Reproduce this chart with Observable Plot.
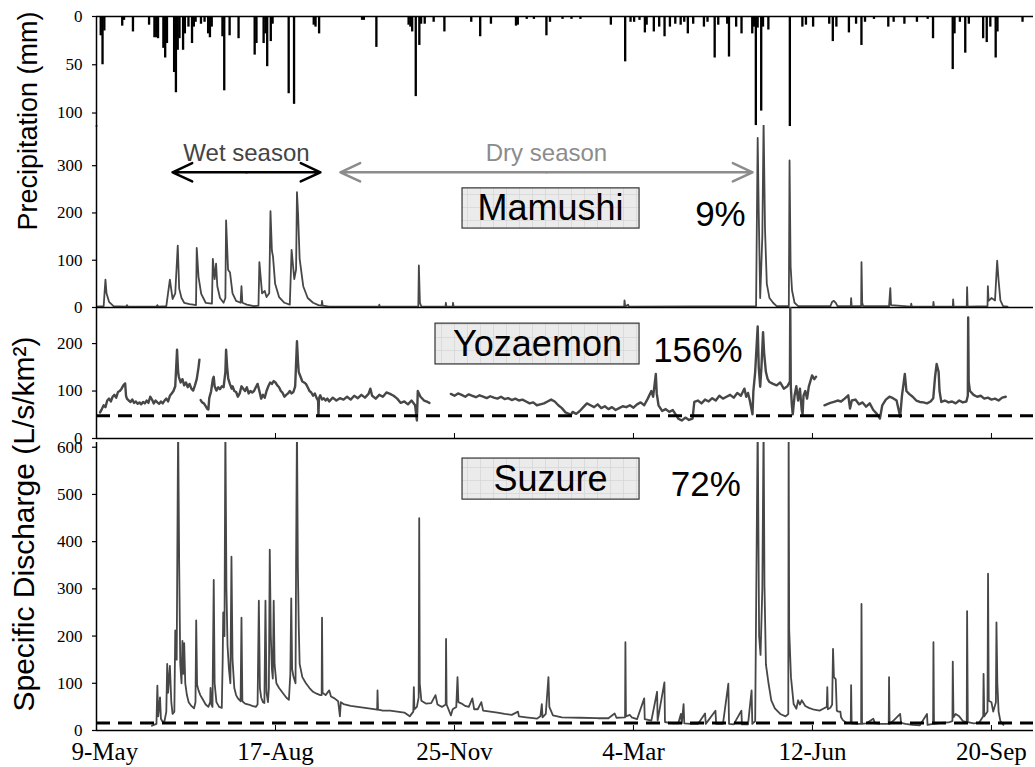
<!DOCTYPE html>
<html>
<head>
<meta charset="utf-8">
<script src="https://cdn.jsdelivr.net/npm/d3@7"></script>
<script src="https://cdn.jsdelivr.net/npm/@observablehq/plot@0.6"></script>
<style>
body { margin: 0; background: #fff; }
#chart { position: relative; width: 1035px; height: 767px; overflow: hidden; background: #fff; }
#chart svg { position: absolute; left: 0; top: 0; background: transparent !important; max-width: none !important; }
.ytitle { position: absolute; font-family: "Liberation Sans", Arial, sans-serif; white-space: nowrap; line-height: 1; color: #000; transform: translate(-50%, -50%) rotate(-90deg); }
</style>
</head>
<body>
<div id="chart">
<svg width="0" height="0" style="position:absolute">
  <defs>
    <pattern id="boxgrid" width="13" height="13" patternUnits="userSpaceOnUse">
      <rect width="13" height="13" fill="#ebebeb"></rect>
      <path d="M12.5 0 V13 M0 12.5 H13" stroke="#d4d4d4" stroke-width="0.7" fill="none"></path>
    </pattern>
  </defs>
</svg>
</div>
<script>
// ---------- data (day offsets from 9-May-2015) ----------
const startDate = "2015-05-09";
const lastDay = 523.5;
const tickDates = ["2015-05-09", "2015-08-17", "2015-11-25", "2016-03-04", "2016-06-12", "2016-09-20"];

// daily precipitation [day, mm]
const precipitation = [
  [2,20],[3,50],[4,15],[14,10],[15,4],[20,16],[29,9],[32,22],[33,22],[34,23],[37,33],[38,43],[39,28],
  [43,58],[44,79],[45,35],[46,23],[48,35],[49,18],[51,11],[53,28],[54,11],[55,6],[58,8],[60,6],[62,18],
  [63,22],[64,11],[70,21],[71,77],[74,20],[79,23],[88,40],[89,28],[93,28],[94,18],[95,52],[97,26],[98,8],
  [107,80],[110,91],[121,9],[122,11],[124,18],[148,4],[149,4],[156,32],[174,9],[175,11],[176,16],[178,83],
  [180,30],[181,8],[183,8],[188,6],[194,16],[209,6],[214,21],[220,8],[234,10],[235,9],[240,3],[244,3],
  [251,20],[253,6],[260,3],[265,3],[270,3],[287,9],[295,47],[298,6],[300,6],[303,4],[306,17],[307,9],
  [311,16],[314,11],[317,21],[320,11],[323,8],[326,9],[328,6],[330,18],[333,8],[339,11],[341,6],[345,43],
  [347,9],[352,8],[353,42],[357,11],[360,18],[366,18],[367,11],[368,113],[369,12],[371,98],[372,11],
  [375,14],[387,114],[394,11],[396,9],[400,11],[409,8],[411,26],[413,11],[420,17],[424,8],[427,30],
  [429,6],[434,3],[442,11],[445,6],[451,8],[458,6],[464,3],[467,23],[478,55],[479,18],[482,6],[485,38],
  [487,8],[495,23],[497,27],[499,11],[502,43],[503,16],[517,6]
];

// Mamushi specific discharge [day, L/s/km2]
const mamushi = [
  [0,2],[4,3],[5,59],[5.6,30],[7,12],[9.5,3],[16.5,2],[17,5],[17.5,2],[33.5,2],[34,5],[34.5,2],[39,3],
  [41,59],[42.5,18],[44,30],[45.4,131],[46.2,40],[47.5,20],[49,10],[52,7],[54,6],[55.6,5],[56,126],[57,65],
  [58.5,29],[61,10],[64.5,8],[65,103],[66,60],[66.8,93],[67.5,45],[69,20],[71,10],[72,20],[72.4,184],
  [73.5,80],[74.6,74],[76,30],[78,14],[80.5,10],[81,45],[81.5,10],[84,6],[88,3],[90.5,4],[91,96],[92.5,30],
  [94,35],[95,22],[96.5,30],[97.2,204],[98,120],[98.6,108],[99.8,50],[102,22],[105,10],[108,6],[109,122],
  [110.5,60],[111.5,80],[112,244],[112.6,200],[113.5,103],[115.5,45],[118,20],[121,10],[124,5],[125.8,4],
  [126,14],[126.4,4],[130,2],[157.8,2],[158,6],[158.3,2],[179.8,2],[180.1,89],[180.7,10],[181.5,2],
  [195,2],[195.2,10],[195.5,2],[199,2],[199.2,10],[199.5,2],[294.8,2],[295,15],[295.4,2],[297,6],[297.4,2],
  [368.5,3],[369.4,359],[370,200],[370.8,20],[372,150],[372.7,395],[373.5,165],[374.5,50],[376,20],[378,10],
  [380,3],[386.8,3],[387.2,311],[387.8,87],[388.6,36],[390,10],[392,3],[410,3],[411,12],[412,14],[413,10],
  [414,3],[421.4,3],[421.6,20],[421.9,3],[427.2,3],[427.4,96],[427.8,10],[428.3,3],[442.8,3],[443.2,25],
  [443.5,41],[443.9,5],[455,2],[455.2,8],[455.5,2],[467.4,2],[467.6,12],[467.9,2],[478.4,2],[478.6,17],
  [478.9,2],[486.2,2],[486.4,43],[486.7,2],[497.8,3],[498,45],[498.4,14],[500,20],[502,15],[503.2,99],
  [504,57],[505,15],[506.5,3],[509,2]
];

// Yozaemon specific discharge [day, L/s/km2] (null = gap)
const yozaemon = [
  [2,55],[3,62],[4,70],[5,66],[6,80],[7,84],[8,78],[9,88],[10,92],[11,86],[12,98],[13,100],[14,105],[15,112],
  [16,116],[16.5,90],[17,84],[18,80],[19,77],[20,82],[21,75],[22,78],[23,73],[24,76],[25,72],[26,77],[27,74],
  [28,80],[29,75],[30,88],[31,82],[32,74],[33,80],[34,76],[35,73],[36,78],[37,74],[38,80],[39,84],[40,78],
  [41,90],[42,95],[43,100],[44,110],[45,187],[45.6,140],[46,130],[47,118],[48,125],[49,112],[50,118],
  [51,108],[52,115],[53,105],[54,101],[55,112],[56,125],[57,150],[57.5,166],[57.8,null],
  [58.2,81],[59,76],[60,74],[61,68],[62,62],[62.5,61],[63,85],[64,99],[65,125],[65.5,130],[66,110],[67,101],
  [68,108],[69,104],[70,110],[71,108],[72,140],[72.4,187],[73,150],[73.6,126],[74.5,115],[75.5,105],[76,110],
  [77,100],[78,98],[79,88],[80,95],[81,110],[82,105],[83,100],[84,108],[85,95],[86,100],[87,97],[88,100],
  [89,108],[90,115],[91,100],[92,84],[93,92],[94,86],[95,100],[96,110],[97,118],[98,115],[99,121],[100,118],
  [101,112],[102,108],[103,100],[104,96],[105,88],[106,92],[107,95],[108,100],[109,95],[110,98],[111,110],
  [112,205],[112.6,160],[113,140],[114,130],[115,120],[116,118],[117,115],[118,108],[119,100],[120,97],
  [121,90],[122,95],[123,85],[123.8,80],[124,48],[124.3,85],[125,91],[126,82],[127,85],[128,80],[129,84],
  [130,78],[132,86],[134,80],[136,85],[138,82],[140,88],[142,82],[144,90],[146,85],[148,92],[150,86],
  [152,94],[153,105],[154,90],[156,84],[158,92],[160,88],[162,97],[164,94],[166,90],[168,84],[170,75],
  [172,78],[174,72],[176,80],[178,70],[179,38],[179.5,100],[181,88],[183,80],[185,77],[186,75],[186.5,null],
  [198,94],[200,90],[202,95],[204,92],[206,88],[208,93],[210,90],[212,87],[214,91],[216,88],[218,85],
  [220,89],[222,86],[224,84],[226,88],[228,83],[230,85],[232,81],[234,84],[236,80],[238,82],[240,78],
  [242,74],[244,76],[246,70],[248,72],[250,74],[252,78],[254,82],[256,78],[258,70],[260,64],[262,55],
  [264,52],[265,50],[266,56],[268,52],[270,58],[272,66],[274,74],[276,70],[278,66],[280,72],[282,64],
  [284,68],[286,62],[288,66],[290,60],[292,64],[294,68],[296,66],[298,70],[300,65],[302,72],[304,76],
  [306,70],[308,84],[310,100],[311,88],[312,120],[312.5,136],[313,95],[314,70],[316,58],[318,62],[320,56],
  [322,60],[324,48],[325,42],[327,38],[329,44],[331,39],[333,42],[334,77],[336,80],[338,74],[340,82],
  [342,78],[344,85],[346,80],[348,90],[350,84],[352,88],[354,92],[356,86],[358,96],[360,90],[362,105],
  [363,88],[364,96],[365,80],[366.5,51],[367,100],[368,140],[369.4,236],[370,150],[370.8,109],[371.5,150],
  [372.4,224],[373,180],[374,140],[375,125],[376,119],[378,115],[380,112],[382,118],[384,105],[386,110],
  [387.4,120],[387.6,280],[387.9,110],[388.5,70],[389,51],[390,90],[391,110],[392,80],[393,105],[394,60],
  [394.5,51],[395,90],[396,100],[397,84],[398,110],[399.8,133],[401,125],[402,130],[402.5,null],
  [406.7,70],[408,72],[410,75],[412,77],[414,80],[416,78],[418,84],[420,91],[421,63],[422,80],[424,82],
  [426,72],[428,76],[430,67],[432,74],[434,60],[436,52],[437.7,42],[439,70],[441,82],[443,88],[445,85],
  [447,80],[449,46],[450,90],[451.6,136],[452.5,100],[454,94],[456,88],[458,80],[460,77],[462,76],[464,74],
  [466,78],[467.5,85],[468.5,130],[469.4,157],[470.5,140],[471,100],[472,77],[474,80],[476,76],[478,78],
  [480,74],[482,80],[484,76],[486,78],[486.8,90],[487,255],[487.3,120],[488,100],[490,92],[492,88],
  [494,90],[496,84],[498,86],[500,82],[502,84],[504,80],[506,86],[508,88]
];

// Suzure specific discharge [day, L/s/km2]
const suzure = [
  [31,10],[32,12],[33.5,14],[34,95],[34.5,30],[35.5,70],[36,25],[37,18],[38,20],[39,40],[39.5,141],[40,80],
  [41,137],[41.8,60],[42.5,35],[43.5,40],[44,212],[44.8,150],[45.6,650],[46.2,350],[46.8,140],[47.5,100],
  [48,190],[48.5,120],[49,185],[49.6,100],[50.5,75],[51.5,60],[53,52],[54.5,47],[55.3,60],[55.7,233],
  [56.2,97],[57,85],[58,75],[59.5,65],[61,55],[62.5,50],[63.5,60],[63.7,90],[64.2,55],[64.8,50],[65.5,319],
  [66,100],[67,60],[68.5,50],[70,48],[70.5,150],[70.8,250],[71.5,200],[72,650],[72.6,300],[73.2,180],
  [74,130],[74.8,100],[75.4,368],[76,150],[77,90],[78,75],[79,68],[80.5,62],[81,239],[81.5,62],[83,57],
  [85,55],[87,52],[89,50],[90,55],[90.7,275],[91.3,90],[92,70],[93,60],[93.8,58],[94.4,275],[95,80],
  [95.8,60],[96.3,90],[96.8,383],[97.4,200],[98,130],[98.5,110],[99,275],[99.5,140],[100.5,100],[102,90],
  [104,80],[106,70],[107.5,65],[108.3,120],[108.8,280],[109.3,130],[110,115],[111.2,100],[111.5,350],
  [112,650],[112.5,345],[113,220],[113.5,141],[115,113],[117,100],[119,90],[121,82],[123,78],[125,75],
  [125.8,75],[126,239],[126.3,80],[128,75],[130,85],[131,72],[133,68],[135,62],[136,30],[136.5,60],[138,56],
  [142,52],[146,50],[150,48],[154,46],[156.8,44],[157,85],[157.3,44],[160,42],[164,42],[168,40],[172,38],
  [175,30],[177,40],[177.3,92],[177.6,45],[179,50],[180,70],[180.3,450],[180.6,100],[181.5,63],[184,57],
  [187,58],[189.4,75],[190.5,55],[193,50],[195.1,55],[195.3,194],[195.6,55],[198,32],[199,45],[201,50],
  [201.7,113],[202.2,60],[204,57],[206,52],[208,50],[210,68],[211,45],[213,45],[215,60],[216,42],[220,40],
  [224,38],[228,35],[232,33],[235.5,40],[236,30],[240,28],[244,26],[246,25],[248,30],[248.8,56],[249.2,28],
  [251,35],[252.5,113],[253,50],[255,32],[260,28],[270,27],[280,26],[286,26],[289.5,36],[290.5,27],
  [295.3,28],[295.5,187],[295.8,30],[298,33],[299,28],[302,24],[306,68],[306.3,24],[310,21],[313.2,82],
  [313.5,21],[317.3,102],[317.6,18],[320,16],[322,15],[325,15],[326.5,35],[327,15],[328,56],[328.4,15],
  [332,14],[336,14],[340,36],[340.4,14],[345.8,42],[346.2,14],[350,14],[353,99],[353.4,14],[356,13],
  [360.3,42],[360.6,13],[364,13],[366,85],[366.4,14],[368,20],[369.4,650],[370.2,200],[371,160],[372,300],
  [372.7,650],[373.2,306],[374,140],[375.5,99],[377,64],[379,47],[382,35],[385,30],[386.5,35],[386.7,650],
  [387,214],[388,113],[389.5,56],[391,46],[392,64],[393,55],[394,64],[396,52],[398,48],[401,44],[404,42],
  [406,46],[408,50],[408.3,92],[408.6,45],[410,48],[411,55],[411.5,173],[412,113],[413,109],[413.6,42],
  [414.5,40],[415.6,40],[416,28],[417,22],[419,16],[421.4,16],[421.6,96],[421.9,15],[425,14],[427.2,14],
  [427.4,268],[427.7,14],[430,15],[434,25],[435,15],[438,14],[442.6,14],[442.8,113],[443.1,14],[445,20],
  [449,35],[449.5,16],[452,14],[456,12],[460,11],[464,35],[464.3,12],[467.4,14],[467.6,187],[467.9,14],
  [472,16],[476,17],[478.2,20],[478.4,146],[478.8,28],[480,35],[482,30],[484,20],[486.2,18],[486.4,253],
  [486.8,18],[490,15],[493,16],[495.4,30],[495.6,120],[496,30],[497.8,40],[498.1,332],[498.5,63],[500,60],
  [501,40],[502.5,60],[502.8,229],[503.3,100],[504,40],[505,20],[506.7,12]
];

// reference (dashed) levels
const yozaemonBase = 48;
const suzureBase = 16;

// panel labels and ratios
const siteNames = ["Mamushi", "Yozaemon", "Suzure"];
const sitePercents = ["9%", "156%", "72%"];
const seasonNames = ["Wet season", "Dry season"];
const seasonSpans = [[42.5, 125.1], [136.3, 366.5]];

// ---------- helpers ----------
const t0 = Date.parse(startDate + "T00:00:00Z");
const toDate = d => new Date(t0 + d * 864e5);
const rows = arr => arr.map(([d, v]) => ({date: toDate(d), value: v}));
const xDomain = [toDate(0), toDate(lastDay)];
const ticks = tickDates.map(s => new Date(s + "T00:00:00Z"));
const fmt = d3.utcFormat("%-d-%b");

const W = 1035, H = 767;
const serif = "'Liberation Serif', 'Times New Roman', serif";
const sans = "'Liberation Sans', Arial, sans-serif";
const lineColor = "#474747";

function panel({top, bottom, yDomain, reverse = false, yTicks, marks}) {
  return Plot.plot({
    width: W, height: H,
    marginLeft: 96, marginRight: 2, marginTop: top, marginBottom: H - bottom,
    x: {type: "utc", domain: xDomain, axis: null},
    y: {domain: yDomain, reverse, axis: null},
    style: {background: "transparent", fontFamily: serif, fontSize: "17px", overflow: "visible", color: "#000"},
    marks: [
      ...marks,
      Plot.ruleX([xDomain[0]], {y1: yDomain[0], y2: yDomain[1], stroke: "#000", strokeWidth: 1.5}),
      Plot.axisY({ticks: yTicks, tickSize: 4, tickPadding: 10, tickFormat: d => String(d), label: null, fontSize: 17, strokeWidth: 1.2})
    ]
  });
}

const chart = document.getElementById("chart");

// precipitation panel
const pr = precipitation.map(([d, v]) => ({x1: toDate(d), x2: toDate(d + 1.3), value: v}));
chart.append(panel({
  top: 16, bottom: 127, yDomain: [0, 115], reverse: true, yTicks: [0, 50, 100],
  marks: [
    Plot.rectY(pr, {x1: "x1", x2: "x2", y1: 0, y2: "value", fill: "#000"}),
    Plot.ruleY([0], {stroke: "#000", strokeWidth: 1.5})
  ]
}));

// Mamushi
const seasonColors = ["#000", "#8c8c8c"];
const textColors = ["#444", "#8c8c8c"];
const arrowY = 286, seasonTextY = 326;
const seasonMarks = [];
seasonSpans.forEach(([a, b], i) => {
  const mid = (a + b) / 2;
  seasonMarks.push(
    Plot.arrow([0], {x1: () => toDate(mid), x2: () => toDate(a), y1: arrowY, y2: arrowY, stroke: seasonColors[i], strokeWidth: 2.5, headLength: 13, headAngle: 50}),
    Plot.arrow([0], {x1: () => toDate(mid), x2: () => toDate(b), y1: arrowY, y2: arrowY, stroke: seasonColors[i], strokeWidth: 2.5, headLength: 13, headAngle: 50}),
    Plot.text([seasonNames[i]], {x: () => toDate(mid), y: seasonTextY, text: d => d, fill: textColors[i], fontFamily: sans, fontSize: 24})
  );
});

function siteLabel(i, box, textPos, pctPos) {
  return [
    Plot.rect([0], {x1: () => toDate(box[0]), x2: () => toDate(box[1]), y1: box[2], y2: box[3], fill: "url(#boxgrid)", stroke: "#333", strokeWidth: 1.2}),
    Plot.text([siteNames[i]], {x: () => toDate(textPos[0]), y: textPos[1], text: d => d, fontFamily: sans, fontSize: 36, fill: "#000"}),
    Plot.text([sitePercents[i]], {x: () => toDate(pctPos[0]), y: pctPos[1], text: d => d, fontFamily: sans, fontSize: 35, fill: "#000"})
  ];
}

chart.append(panel({
  top: 125, bottom: 307, yDomain: [0, 385], yTicks: [0, 100, 200, 300],
  marks: [
    Plot.line(rows(mamushi), {x: "date", y: "value", stroke: lineColor, strokeWidth: 1.8, clip: true}),
    Plot.ruleY([0], {stroke: "#000", strokeWidth: 1.5}),
    ...seasonMarks,
    ...siteLabel(0, [204.5, 303.4, 167, 252], [253.6, 209.5], [348.6, 197])
  ]
}));

// Yozaemon
chart.append(panel({
  top: 307, bottom: 438, yDomain: [0, 276], yTicks: [0, 100, 200],
  marks: [
    Plot.line(rows(yozaemon), {x: "date", y: "value", stroke: lineColor, strokeWidth: 2.4, clip: true}),
    Plot.ruleY([yozaemonBase], {stroke: "#000", strokeWidth: 3, strokeDasharray: "14,8"}),
    Plot.ruleY([0], {stroke: "#000", strokeWidth: 1.5}),
    Plot.axisX({ticks, tickSize: -5, tickFormat: () => "", label: null}),
    ...siteLabel(1, [189.4, 303.4, 156, 242], [246.4, 199], [336, 185])
  ]
}));

// Suzure
chart.append(panel({
  top: 442, bottom: 730, yDomain: [0, 610], yTicks: [0, 100, 200, 300, 400, 500, 600],
  marks: [
    Plot.line(rows(suzure), {x: "date", y: "value", stroke: lineColor, strokeWidth: 1.8, clip: true}),
    Plot.ruleY([suzureBase], {stroke: "#000", strokeWidth: 3, strokeDasharray: "14,8"}),
    Plot.ruleY([0], {stroke: "#000", strokeWidth: 1.5}),
    Plot.axisX({ticks, tickSize: -5, tickPadding: 17, tickFormat: (d, i) => i === 0 ? "" : fmt(d), label: null, fontSize: 25}),
    Plot.axisX({ticks: [ticks[0]], tickSize: 0, tickPadding: 12, tickFormat: fmt, label: null, fontSize: 25, textAnchor: "start", dx: -25}),
    ...siteLabel(2, [204.5, 303.4, 489, 576], [253.6, 532], [340.4, 520])
  ]
}));

// y-axis titles
function ytitle(text, cx, cy, size) {
  const d = document.createElement("div");
  d.className = "ytitle";
  d.textContent = text;
  d.style.left = cx + "px";
  d.style.top = cy + "px";
  d.style.fontSize = size + "px";
  chart.append(d);
}
ytitle("Precipitation (mm)", 28, 121, 27);
ytitle("Specific Discharge (L/s/km\u00B2)", 24, 524, 30);
</script>
</body>
</html>
